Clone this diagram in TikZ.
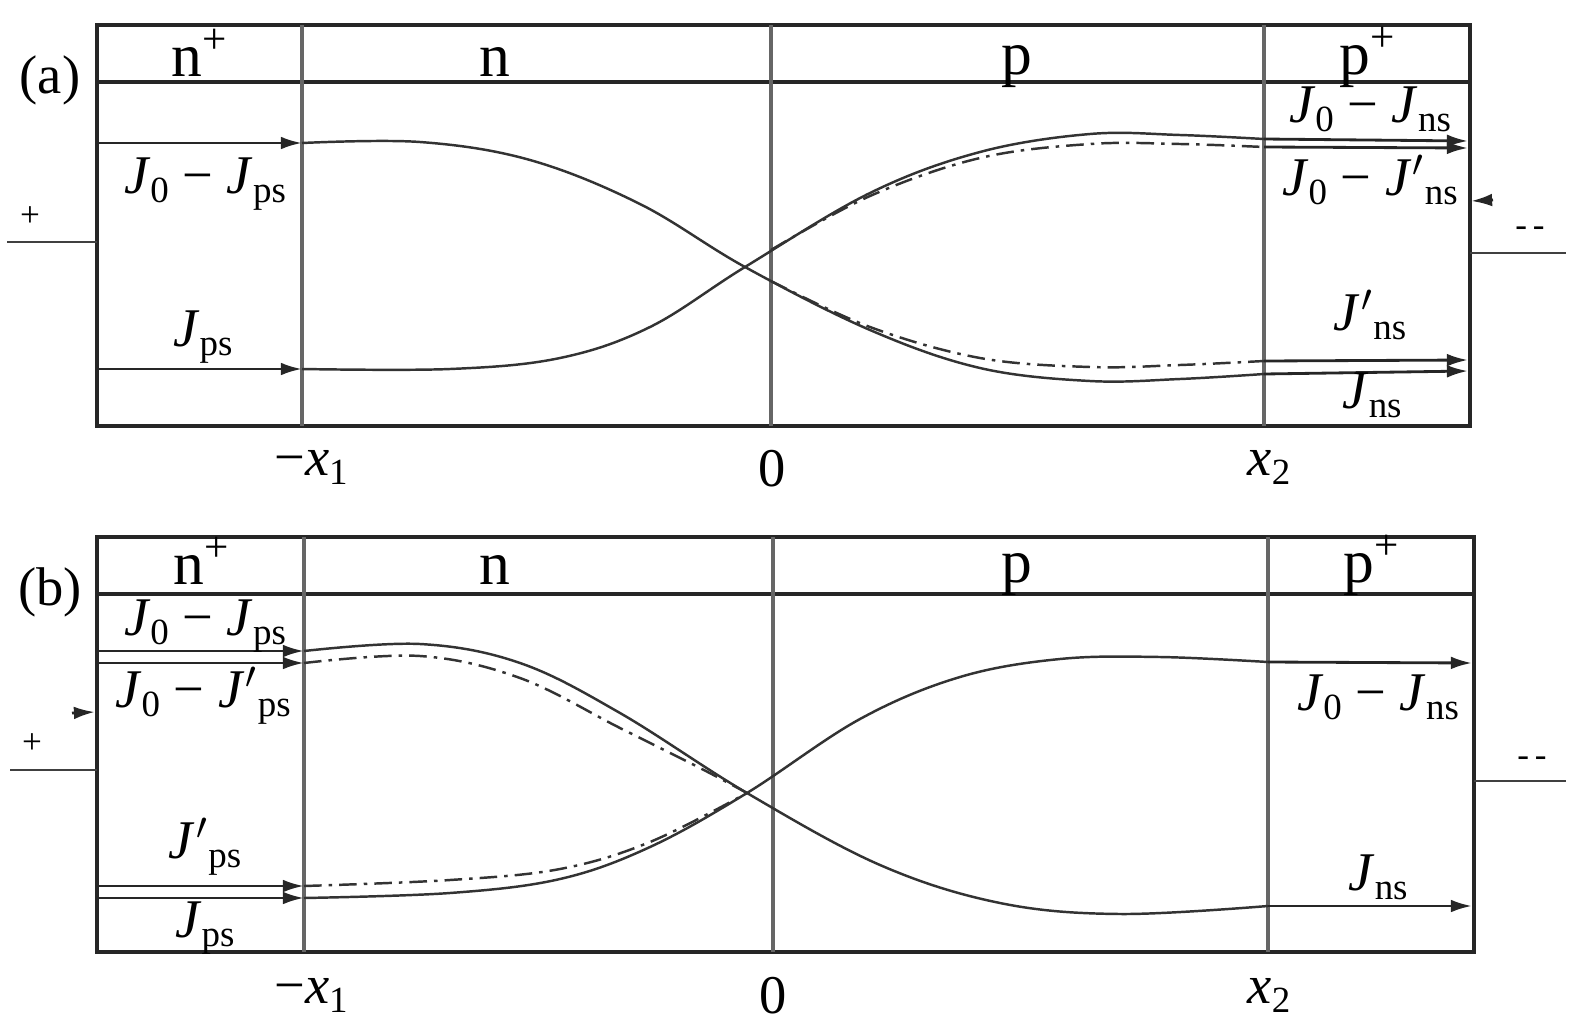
\documentclass[tikz,border=0pt]{standalone}
\usepackage{fontspec}
\setmainfont{Liberation Serif}
\usetikzlibrary{arrows.meta, positioning}

\newcommand{\lowsub}[1]{\raisebox{-2.8pt}{\fontsize{10.5}{12}\selectfont #1}}
\newcommand{\curJ}[1]{\textit{J}\lowsub{#1}}
\newcommand{\curJp}[1]{\textit{J}\kern0.3pt$'$\lowsub{#1}}

\begin{document}
\begin{tikzpicture}[x=0.01cm, y=-0.01cm, font=\fontsize{15.5}{18}\selectfont]
    \tikzstyle{frame} = [draw=black!85, line width=0.9pt]
    \tikzstyle{wall} = [draw=black!60, line width=1.4pt]
    \tikzstyle{flow} = [draw=black!85, line width=0.8pt, -{Latex[length=6pt, width=3.6pt]}]
    \tikzstyle{curve} = [draw=black!80, line width=0.7pt]
    \tikzstyle{curvedd} = [curve, dash pattern=on 5pt off 2pt on 1pt off 2pt]
    \tikzstyle{region} = [anchor=base, inner sep=0pt, font=\fontsize{17.5}{20}\selectfont]
    \tikzstyle{lbl} = [anchor=base, inner sep=0pt]
    \tikzstyle{pole} = [inner sep=0pt, font=\fontsize{10}{12}\selectfont]
    \tikzstyle{lead} = [draw=black!75, line width=0.8pt]

    \useasboundingbox (0,0) rectangle (1575,1033);

    % (a)
    \draw[frame] (97,25) rectangle (1470,426);
    \draw[frame] (97,82) -- (1470,82);
    \foreach \x in {302,771,1264} \draw[wall] (\x,25) -- (\x,426);

    \node[lbl] (a-tag) at (50,93) {(a)};
    \node[region] (a-np) at (200,76) {n\textsuperscript{+}};
    \node[region] (a-n) at (495,76) {n};
    \node[region] (a-p) at (1017,74) {p};
    \node[region] (a-pp) at (1368,74) {p\textsuperscript{+}};

    \coordinate (a-in1) at (97,143);
    \coordinate (a-x1t) at (302,143);
    \coordinate (a-in2) at (97,369);
    \coordinate (a-x1b) at (302,369);
    \draw[flow] (a-in1) -- (a-x1t);
    \draw[flow] (a-in2) -- (a-x1b);

    \coordinate (a-x2t) at (1264,139);
    \coordinate (a-x2td) at (1264,147);
    \coordinate (a-x2bd) at (1264,361);
    \coordinate (a-x2b) at (1264,374);
    \coordinate (a-out1) at (1468,141);
    \coordinate (a-out2) at (1468,148);
    \coordinate (a-out3) at (1468,360);
    \coordinate (a-out4) at (1468,371);

    \draw[curve] plot[smooth, tension=0.6] coordinates {(a-x1t) (420,142) (530,160)
        (640,204) (745,267) (870,330) (980,368) (1090,381) (1180,379) (a-x2b)};
    \draw[curve] plot[smooth, tension=0.6] coordinates {(a-x1b) (450,369) (560,358)
        (650,327) (745,267) (870,193) (980,152) (1090,134) (1180,135) (a-x2t)};
    \draw[curvedd] plot[smooth, tension=0.6] coordinates {(771,281) (870,327)
        (980,358) (1090,367) (1180,365) (a-x2bd)};
    \draw[curvedd] plot[smooth, tension=0.6] coordinates {(771,250) (870,196)
        (980,158) (1090,144) (1180,144) (a-x2td)};

    \draw[flow] (a-x2t) -- (a-out1);
    \draw[flow] (a-x2td) -- (a-out2);
    \draw[flow] (a-x2bd) -- (a-out3);
    \draw[flow] (a-x2b) -- (a-out4);

    \node[lbl] (a-j1) at (205,193) {\curJ{0} − \curJ{ps}};
    \node[lbl] (a-j2) at (203,346) {\curJ{ps}};
    \node[lbl] (a-j3) at (1370,122) {\curJ{0} − \curJ{ns}};
    \node[lbl] (a-j4) at (1370,195) {\curJ{0} − \curJp{ns}};
    \node[lbl] (a-j5) at (1370,330) {\curJp{ns}};
    \node[lbl] (a-j6) at (1372,408) {\curJ{ns}};

    \node[lbl] (a-mx1) at (311,475) {−\textit{x}\lowsub{1}};
    \node[lbl] (a-zero) at (772,486) {0};
    \node[lbl] (a-x2) at (1269,475) {\textit{x}\lowsub{2}};

    \node[pole] (a-plus) at (30,217) {+};
    \coordinate (a-lw) at (7,242);
    \coordinate (a-le) at (97,242);
    \draw[lead] (a-lw) -- (a-le);
    \node[pole] (a-minus) at (1530,232) {-\,-};
    \coordinate (a-rw) at (1470,253);
    \coordinate (a-re) at (1566,253);
    \draw[lead] (a-rw) -- (a-re);
    \coordinate (a-kt) at (1493,200);
    \coordinate (a-kh) at (1471,201);
    \draw[flow] (a-kt) -- (a-kh);

    % (b)
    \draw[frame] (97,537) rectangle (1474,952);
    \draw[frame] (97,594) -- (1474,594);
    \foreach \x in {304,773,1268} \draw[wall] (\x,537) -- (\x,952);

    \node[lbl] (b-tag) at (50,605) {(b)};
    \node[region] (b-np) at (202,584) {n\textsuperscript{+}};
    \node[region] (b-n) at (495,584) {n};
    \node[region] (b-p) at (1017,582) {p};
    \node[region] (b-pp) at (1372,582) {p\textsuperscript{+}};

    \coordinate (b-in1) at (97,651);
    \coordinate (b-x1t) at (304,651);
    \coordinate (b-in2) at (97,663);
    \coordinate (b-x1td) at (304,663);
    \coordinate (b-in3) at (97,886);
    \coordinate (b-x1bd) at (304,886);
    \coordinate (b-in4) at (97,898);
    \coordinate (b-x1b) at (304,898);
    \draw[flow] (b-in1) -- (b-x1t);
    \draw[flow] (b-in2) -- (b-x1td);
    \draw[flow] (b-in3) -- (b-x1bd);
    \draw[flow] (b-in4) -- (b-x1b);

    \coordinate (b-x2t) at (1268,662);
    \coordinate (b-x2b) at (1268,906);
    \coordinate (b-out1) at (1472,663);
    \coordinate (b-out2) at (1472,906);

    \draw[curve] plot[smooth, tension=0.6] coordinates {(b-x1t) (420,644) (520,663)
        (620,713) (747,793) (880,865) (1000,903) (1120,914) (b-x2b)};
    \draw[curve] plot[smooth, tension=0.6] coordinates {(b-x1b) (450,893) (560,879)
        (650,847) (747,793) (860,719) (960,677) (1060,659) (1160,657) (b-x2t)};
    \draw[curvedd] plot[smooth, tension=0.6] coordinates {(b-x1td) (420,656) (520,678)
        (620,728) (700,768) (747,793)};
    \draw[curvedd] plot[smooth, tension=0.6] coordinates {(b-x1bd) (450,880) (560,869)
        (650,842) (747,793)};

    \draw[flow] (b-x2t) -- (b-out1);
    \draw[flow] (b-x2b) -- (b-out2);

    \node[lbl] (b-j1) at (205,635) {\curJ{0} − \curJ{ps}};
    \node[lbl] (b-j2) at (203,707) {\curJ{0} − \curJp{ps}};
    \node[lbl] (b-j3) at (205,858) {\curJp{ps}};
    \node[lbl] (b-j4) at (205,937) {\curJ{ps}};
    \node[lbl] (b-j5) at (1378,710) {\curJ{0} − \curJ{ns}};
    \node[lbl] (b-j6) at (1378,890) {\curJ{ns}};

    \node[lbl] (b-mx1) at (311,1003) {−\textit{x}\lowsub{1}};
    \node[lbl] (b-zero) at (773,1013) {0};
    \node[lbl] (b-x2) at (1269,1003) {\textit{x}\lowsub{2}};

    \node[pole] (b-plus) at (32,744) {+};
    \coordinate (b-lw) at (10,770);
    \coordinate (b-le) at (97,770);
    \draw[lead] (b-lw) -- (b-le);
    \node[pole] (b-minus) at (1532,762) {-\,-};
    \coordinate (b-rw) at (1474,781);
    \coordinate (b-re) at (1566,781);
    \draw[lead] (b-rw) -- (b-re);
    \coordinate (b-kt) at (72,713);
    \coordinate (b-kh) at (95,712);
    \draw[flow] (b-kt) -- (b-kh);
\end{tikzpicture}
\end{document}
